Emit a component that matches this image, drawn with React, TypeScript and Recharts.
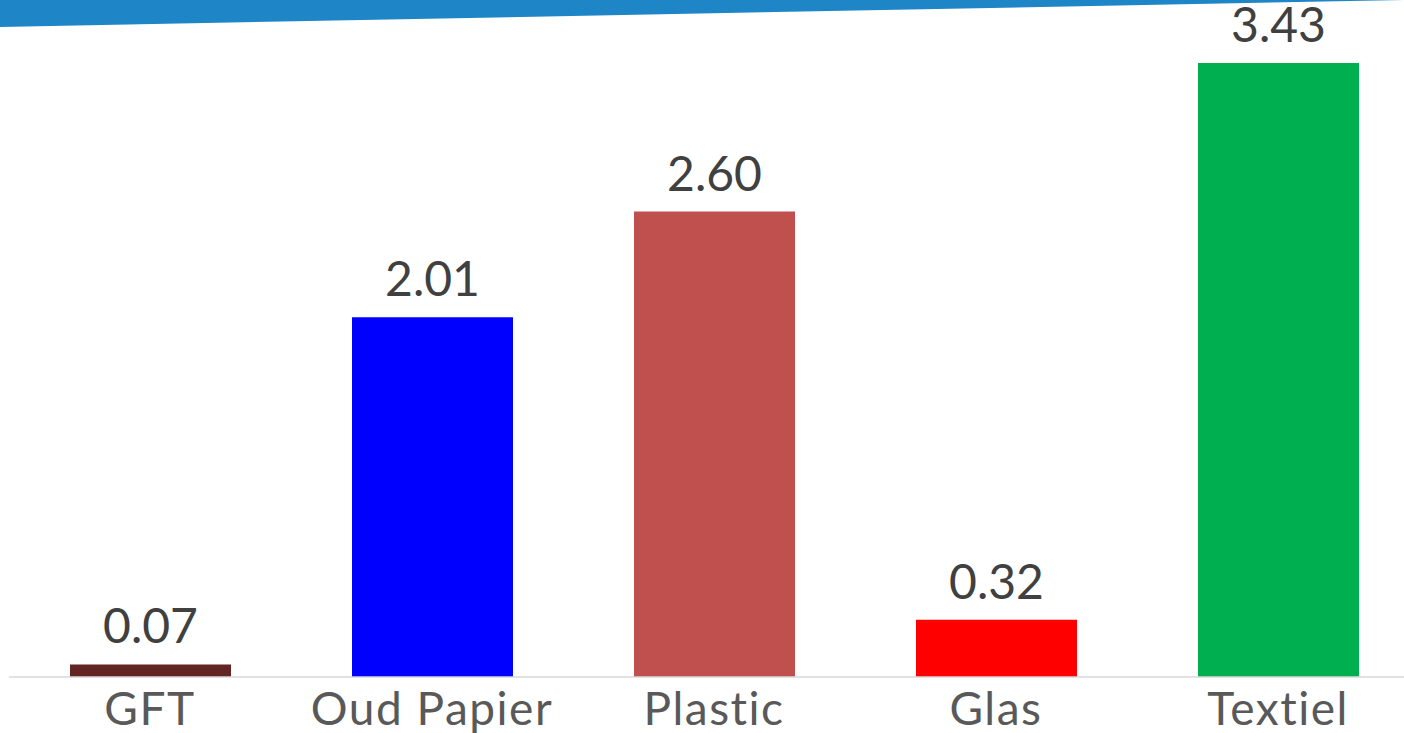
import React from "react";
import { BarChart, Bar, XAxis, YAxis, Cell, LabelList } from "recharts";

const categories = ["GFT", "Oud Papier", "Plastic", "Glas", "Textiel"];
const values = [0.07, 2.01, 2.6, 0.32, 3.43];
const barColors = ["#632523", "#0000FF", "#C0504D", "#FF0000", "#00B050"];

const data = categories.map((name, i) => ({ name, value: values[i] }));

export default function App() {
  return (
    <div
      style={{
        position: "absolute",
        left: 0,
        top: 0,
        width: 1404,
        height: 733,
        overflow: "hidden",
        background: "#ffffff",
        fontFamily: "Lato, sans-serif",
      }}
    >
      <div style={{ position: "absolute", left: 8.5, top: -39 }}>
        <BarChart
          width={1410}
          height={772}
          data={data}
          margin={{ top: 0, right: 0, bottom: 0, left: 0 }}
          barSize={161}
        >
          <XAxis
            dataKey="name"
            height={56}
            tickLine={false}
            tickMargin={9}
            axisLine={{ stroke: "#d9d9d9", strokeWidth: 1.5 }}
            tick={{ fontSize: 46, fill: "#595959", fontFamily: "Lato", letterSpacing: 1.5 }}
            interval={0}
          />
          <YAxis hide domain={[0, 4]} />
          <Bar dataKey="value" isAnimationActive={false}>
            {data.map((d, i) => (
              <Cell key={d.name} fill={barColors[i]} />
            ))}
            <LabelList
              dataKey="value"
              position="top"
              offset={21}
              formatter={(v: number) => v.toFixed(2)}
              style={{ fontSize: 48, fill: "#404040", fontFamily: "Lato" }}
            />
          </Bar>
        </BarChart>
      </div>
      {/* slanted header band */}
      <svg
        width={1404}
        height={30}
        style={{ position: "absolute", left: 0, top: 0 }}
      >
        <polygon points="0,0 1404,0 1404,0 0,27" fill="#1E86C6" />
      </svg>
    </div>
  );
}
